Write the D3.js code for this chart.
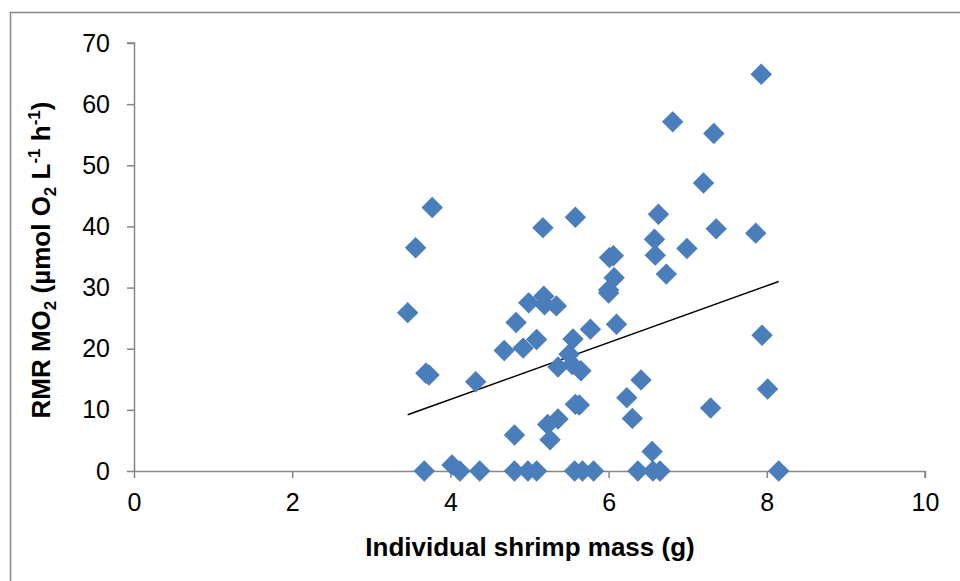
<!DOCTYPE html>
<meta charset="utf-8">
<script src="https://d3js.org/d3.v7.min.js"></script>
<style>
  body { margin: 0; background: #fff; }
  text { font-family: "Liberation Sans", Arial, sans-serif; }
</style>
<svg id="chart" width="960" height="581"></svg>
<script>
// shrimp mass (g) and resting metabolic rate
var massG = [3.46, 3.56, 3.77, 3.69, 3.73, 4.32, 4.68, 4.83, 4.92, 4.99,
             5.09, 5.17, 5.18, 5.19, 5.34, 5.58, 5.55, 5.50, 5.36, 5.54,
             5.65, 5.77, 5.58, 5.63, 4.81, 5.23, 5.36, 5.26, 6.10, 6.01,
             6.06, 6.07, 6.00, 6.00, 6.63, 6.58, 6.59, 6.73, 6.41, 6.23,
             6.30, 6.55, 7.20, 7.36, 7.86, 6.99, 7.94, 8.01, 7.29, 7.93,
             6.81, 7.33,
             3.67, 4.02, 4.12, 4.37, 4.81, 4.98, 5.09, 5.57, 5.67, 5.81,
             6.37, 6.56, 6.65, 8.15];
var rmr = [25.9, 36.5, 43.1, 16.0, 15.7, 14.6, 19.7, 24.3, 20.1, 27.5,
           21.5, 39.8, 28.6, 27.2, 27.0, 41.5, 21.6, 19.1, 17.0, 17.4,
           16.4, 23.2, 10.9, 10.8, 5.9, 7.6, 8.5, 5.1, 24.0, 34.9,
           35.2, 31.6, 29.6, 29.1, 42.0, 37.9, 35.3, 32.2, 14.9, 12.0,
           8.6, 3.2, 47.1, 39.6, 38.9, 36.4, 22.2, 13.4, 10.3, 64.9,
           57.1, 55.2,
           0, 1.0, 0, 0, 0, 0, 0, 0, 0, 0,
           0, 0, 0, 0];

// linear trendline endpoints
var trendX = [3.46, 8.15];
var trendY = [9.2, 31.0];

var xTicks = [0, 2, 4, 6, 8, 10];
var yTicks = [0, 10, 20, 30, 40, 50, 60, 70];

var margin = { top: 43, right: 35, bottom: 110, left: 134 },
    width = 960 - margin.left - margin.right,
    height = 581 - margin.top - margin.bottom;

var svg = d3.select("#chart");

// outer chart border (only top/left inside the image)
svg.append("rect")
    .attr("x", 10.5).attr("y", 12.5)
    .attr("width", 1000).attr("height", 1000)
    .attr("fill", "none")
    .attr("stroke", "#868686")
    .attr("stroke-width", 1.5);

var g = svg.append("g")
    .attr("transform", "translate(" + margin.left + "," + margin.top + ")");

var x = d3.scaleLinear().domain([0, 10]).range([0, width]);
var y = d3.scaleLinear().domain([0, 70]).range([height, 0]);

var yAxis = g.append("g")
    .call(d3.axisLeft(y).tickValues(yTicks).tickSize(7).tickPadding(17));
var xAxis = g.append("g")
    .attr("transform", "translate(0," + height + ")")
    .call(d3.axisBottom(x).tickValues(xTicks).tickSize(7).tickPadding(15));

[xAxis, yAxis].forEach(function (a) {
    a.selectAll("path, line").attr("stroke", "#868686").attr("stroke-width", 1.5);
    a.selectAll("text")
        .attr("fill", "#000")
        .style("font-size", "25px")
        .style("font-family", "'Liberation Sans', Arial, sans-serif");
});
yAxis.select(".domain").attr("d", "M0.5," + height + "V0H-7");
xAxis.select(".domain").attr("d", "M0," + 0.5 + "H" + width + "V7");

// trendline
g.append("line")
    .attr("x1", x(trendX[0])).attr("y1", y(trendY[0]))
    .attr("x2", x(trendX[1])).attr("y2", y(trendY[1]))
    .attr("stroke", "#000")
    .attr("stroke-width", 1.5);

// diamonds
var pts = massG.map(function (m, i) { return { x: m, y: rmr[i] }; });
var sym = d3.symbol().type(d3.symbolSquare).size(200);
g.selectAll("path.pt")
    .data(pts)
    .enter().append("path")
    .attr("class", "pt")
    .attr("d", sym)
    .attr("transform", function (d) {
        return "translate(" + x(d.x) + "," + y(d.y) + ") rotate(45)";
    })
    .attr("fill", "#4a7ebb")
    .attr("stroke", "#4a7ebb")
    .attr("stroke-width", 1);

// axis titles
svg.append("text")
    .attr("x", 530)
    .attr("y", 556)
    .attr("text-anchor", "middle")
    .style("font-size", "26px")
    .style("font-weight", "bold")
    .text("Individual shrimp mass (g)");

var yt = svg.append("text")
    .attr("transform", "translate(50,260) rotate(-90)")
    .attr("text-anchor", "middle")
    .style("font-size", "26px")
    .style("font-weight", "bold");
yt.append("tspan").text("RMR MO");
yt.append("tspan").attr("dy", 6).style("font-size", "17px").text("2");
yt.append("tspan").attr("dy", -6).text(" (µmol O");
yt.append("tspan").attr("dy", 6).style("font-size", "17px").text("2");
yt.append("tspan").attr("dy", -6).text(" L");
yt.append("tspan").attr("dy", -10).style("font-size", "17px").text("-1");
yt.append("tspan").attr("dy", 10).text(" h");
yt.append("tspan").attr("dy", -10).style("font-size", "17px").text("-1");
yt.append("tspan").attr("dy", 10).text(")");
</script>
